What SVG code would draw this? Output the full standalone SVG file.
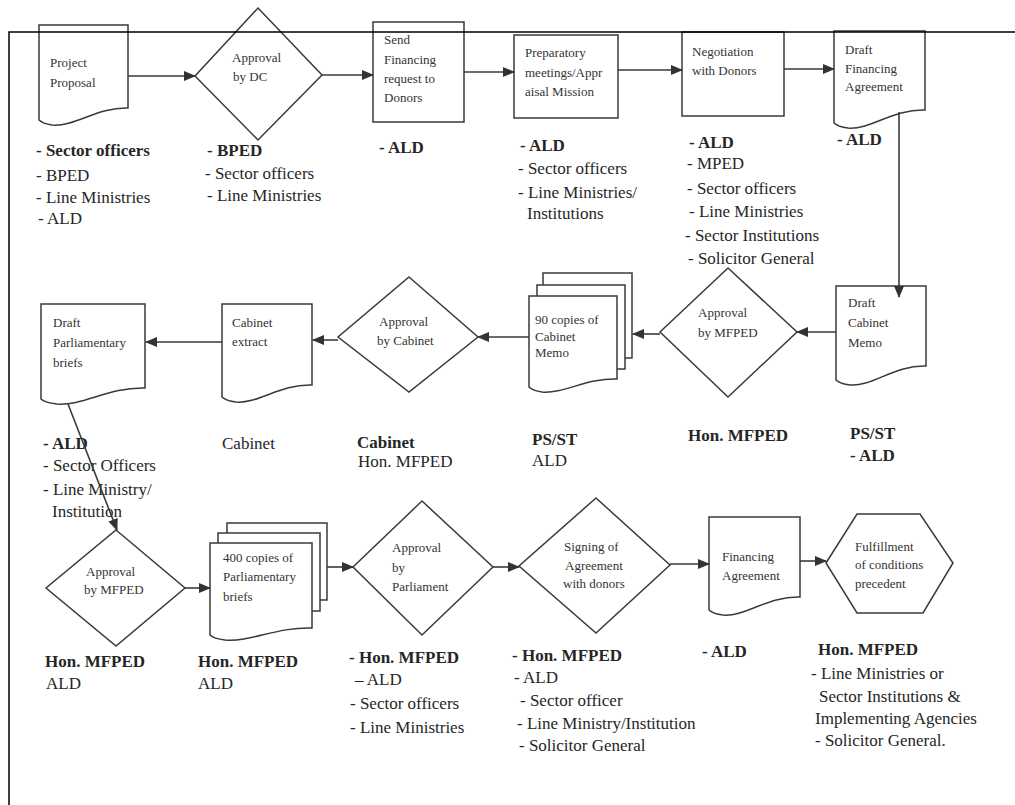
<svg xmlns="http://www.w3.org/2000/svg" width="1015" height="805" viewBox="0 0 1015 805">
<style>
.shape{fill:#fff;stroke:#3a3a3a;stroke-width:1.5}
.conn{fill:none;stroke:#3a3a3a;stroke-width:1.6}
.nt{font-family:"Liberation Serif","Times New Roman",serif;font-size:13px;fill:#333}
.lb{font-family:"Liberation Serif","Times New Roman",serif;font-size:17px;fill:#262626}
.b{font-weight:bold}
.frame{fill:none;stroke:#000;stroke-width:1.5}
</style>
<defs>
<marker id="ah" markerWidth="12" markerHeight="10" refX="11" refY="5" orient="auto" markerUnits="userSpaceOnUse"><path d="M0,0 L12,5 L0,10 Z" fill="#333"/></marker>
</defs>
<rect width="1015" height="805" fill="#fff"/>

<g id="project-proposal">
<path class="shape" d="M39,25 H128 V108 C97,107 75,127 52,125 C45,124 41,122 39,120 Z"/>
<text class="nt" x="50" y="67">Project</text>
<text class="nt" x="50" y="87">Proposal</text>
<text class="lb b" x="36" y="156">- Sector officers</text>
<text class="lb" x="36" y="181">- BPED</text>
<text class="lb" x="36" y="203">- Line Ministries</text>
<text class="lb" x="38" y="224">- ALD</text>
</g>

<g id="approval-dc">
<polygon class="shape" points="258,8 322,75 258,140 195,76"/>
<text class="nt" x="232" y="62">Approval</text>
<text class="nt" x="233" y="81">by DC</text>
<text class="lb b" x="207" y="156">- BPED</text>
<text class="lb" x="205" y="179">- Sector officers</text>
<text class="lb" x="207" y="201">- Line Ministries</text>
</g>

<g id="send-financing">
<rect class="shape" x="373" y="22" width="91" height="100"/>
<text class="nt" x="384" y="44">Send</text>
<text class="nt" x="384" y="64">Financing</text>
<text class="nt" x="384" y="83">request to</text>
<text class="nt" x="384" y="102">Donors</text>
<text class="lb b" x="379" y="153">- ALD</text>
</g>

<g id="preparatory">
<rect class="shape" x="514" y="35" width="104" height="83"/>
<text class="nt" x="525" y="57">Preparatory</text>
<text class="nt" x="525" y="77">meetings/Appr</text>
<text class="nt" x="525" y="96">aisal Mission</text>
<text class="lb b" x="520" y="151">- ALD</text>
<text class="lb" x="518" y="174">- Sector officers</text>
<text class="lb" x="518" y="198">- Line Ministries/</text>
<text class="lb" x="527" y="219">Institutions</text>
</g>

<g id="negotiation">
<rect class="shape" x="682" y="32" width="102" height="84"/>
<text class="nt" x="692" y="56">Negotiation</text>
<text class="nt" x="692" y="75">with Donors</text>
<text class="lb b" x="689" y="148">- ALD</text>
<text class="lb" x="687" y="169">- MPED</text>
<text class="lb" x="687" y="194">- Sector officers</text>
<text class="lb" x="689" y="217">- Line Ministries</text>
<text class="lb" x="685" y="241">- Sector Institutions</text>
<text class="lb" x="688" y="264">- Solicitor General</text>
</g>

<g id="draft-financing-agreement">
<path class="shape" d="M834,31 H925 V110 C893,109 870,130 848,128 C840,127 836,125 834,123 Z"/>
<text class="nt" x="845" y="54">Draft</text>
<text class="nt" x="845" y="73">Financing</text>
<text class="nt" x="845" y="91">Agreement</text>
<text class="lb b" x="837" y="145">-  ALD</text>
</g>

<g id="draft-cabinet-memo">
<path class="shape" d="M836,286 H926 V366 C894,365 872,387 850,385 C842,384 838,382 836,380 Z"/>
<text class="nt" x="848" y="307">Draft</text>
<text class="nt" x="848" y="327">Cabinet</text>
<text class="nt" x="848" y="347">Memo</text>
<text class="lb b" x="850" y="439">PS/ST</text>
<text class="lb b" x="850" y="461">-  ALD</text>
</g>

<g id="approval-mfped-1">
<polygon class="shape" points="728,268 797,332 728,397 660,332"/>
<text class="nt" x="698" y="317">Approval</text>
<text class="nt" x="698" y="337">by MFPED</text>
<text class="lb b" x="688" y="441">Hon. MFPED</text>
</g>

<g id="cabinet-memo-copies">
<rect class="shape" x="543" y="273" width="89" height="85"/>
<rect class="shape" x="537" y="285" width="88" height="84"/>
<path class="shape" d="M529,296 H617 V379 C586,378 564,394 542,392 C535,391 531,389 529,387 Z"/>
<text class="nt" x="535" y="324">90 copies of</text>
<text class="nt" x="535" y="341">Cabinet</text>
<text class="nt" x="535" y="357">Memo</text>
<text class="lb b" x="532" y="445">PS/ST</text>
<text class="lb" x="532" y="466">ALD</text>
</g>

<g id="approval-cabinet">
<polygon class="shape" points="409,277 478,337 409,392 338,337"/>
<text class="nt" x="379" y="326">Approval</text>
<text class="nt" x="377" y="345">by Cabinet</text>
<text class="lb b" x="357" y="448">Cabinet</text>
<text class="lb" x="358" y="467">Hon. MFPED</text>
</g>

<g id="cabinet-extract">
<path class="shape" d="M222,304 H312 V385 C280,384 258,404 236,402 C228,401 224,399 222,397 Z"/>
<text class="nt" x="232" y="327">Cabinet</text>
<text class="nt" x="232" y="346">extract</text>
<text class="lb" x="222" y="449">Cabinet</text>
</g>

<g id="draft-parliamentary-briefs">
<path class="shape" d="M41,304 H145 V388 C109,387 83,406 57,404 C48,403 43,401 41,399 Z"/>
<text class="nt" x="53" y="327">Draft</text>
<text class="nt" x="53" y="347">Parliamentary</text>
<text class="nt" x="53" y="367">briefs</text>
<text class="lb b" x="43" y="449">- ALD</text>
<text class="lb" x="43" y="471">- Sector Officers</text>
<text class="lb" x="43" y="495">- Line Ministry/</text>
<text class="lb" x="52" y="517">Institution</text>
</g>

<g id="approval-mfped-2">
<polygon class="shape" points="116,530 185,588 116,646 46,588"/>
<text class="nt" x="86" y="576">Approval</text>
<text class="nt" x="84" y="594">by MFPED</text>
<text class="lb b" x="45" y="667">Hon. MFPED</text>
<text class="lb" x="46" y="689">ALD</text>
</g>

<g id="parliamentary-briefs-copies">
<rect class="shape" x="227" y="523" width="100" height="77"/>
<rect class="shape" x="218" y="533" width="102" height="78"/>
<path class="shape" d="M210,543 H312 V628 C276,627 251,642 225,640 C217,639 212,637 210,635 Z"/>
<text class="nt" x="223" y="562">400 copies of</text>
<text class="nt" x="223" y="581">Parliamentary</text>
<text class="nt" x="223" y="601">briefs</text>
<text class="lb b" x="198" y="667">Hon. MFPED</text>
<text class="lb" x="198" y="689">ALD</text>
</g>

<g id="approval-parliament">
<polygon class="shape" points="422,501 493,567 422,635 353,567"/>
<text class="nt" x="392" y="552">Approval</text>
<text class="nt" x="392" y="572">by</text>
<text class="nt" x="392" y="591">Parliament</text>
<text class="lb b" x="349" y="663">- Hon. MFPED</text>
<text class="lb" x="355" y="685">– ALD</text>
<text class="lb" x="350" y="709">- Sector officers</text>
<text class="lb" x="350" y="733">- Line Ministries</text>
</g>

<g id="signing-agreement">
<polygon class="shape" points="596,498 670,565 596,633 519,566"/>
<text class="nt" x="564" y="551">Signing of</text>
<text class="nt" x="565" y="570">Agreement</text>
<text class="nt" x="563" y="588">with donors</text>
<text class="lb b" x="512" y="661">- Hon. MFPED</text>
<text class="lb" x="514" y="683">- ALD</text>
<text class="lb" x="520" y="706">- Sector officer</text>
<text class="lb" x="517" y="729">- Line Ministry/Institution</text>
<text class="lb" x="519" y="751">- Solicitor General</text>
</g>

<g id="financing-agreement">
<path class="shape" d="M709,517 H800 V597 C768,596 745,617 723,615 C715,614 711,612 709,610 Z"/>
<text class="nt" x="722" y="561">Financing</text>
<text class="nt" x="722" y="580">Agreement</text>
<text class="lb b" x="702" y="657">- ALD</text>
</g>

<g id="fulfillment">
<polygon class="shape" points="826,563 857,514 920,514 953,563 923,613 857,613"/>
<text class="nt" x="855" y="551">Fulfillment</text>
<text class="nt" x="855" y="569">of conditions</text>
<text class="nt" x="855" y="588">precedent</text>
<text class="lb b" x="818" y="655">Hon. MFPED</text>
<text class="lb" x="811" y="679">- Line Ministries or</text>
<text class="lb" x="819" y="702">Sector Institutions &amp;</text>
<text class="lb" x="815" y="724">Implementing Agencies</text>
<text class="lb" x="815" y="746">- Solicitor General.</text>
</g>

<g id="connectors">
<line class="conn" x1="128" y1="76" x2="195" y2="76" marker-end="url(#ah)"/>
<line class="conn" x1="322" y1="75" x2="373" y2="75" marker-end="url(#ah)"/>
<line class="conn" x1="464" y1="72" x2="514" y2="72" marker-end="url(#ah)"/>
<line class="conn" x1="618" y1="70" x2="682" y2="70" marker-end="url(#ah)"/>
<line class="conn" x1="784" y1="69" x2="834" y2="69" marker-end="url(#ah)"/>
<line class="conn" x1="899" y1="112" x2="899" y2="297" marker-end="url(#ah)"/>
<line class="conn" x1="836" y1="332" x2="797" y2="332" marker-end="url(#ah)"/>
<line class="conn" x1="660" y1="334" x2="633" y2="334" marker-end="url(#ah)"/>
<line class="conn" x1="529" y1="337" x2="478" y2="337" marker-end="url(#ah)"/>
<line class="conn" x1="338" y1="340" x2="313" y2="340" marker-end="url(#ah)"/>
<line class="conn" x1="222" y1="342" x2="146" y2="342" marker-end="url(#ah)"/>
<line class="conn" x1="68" y1="404" x2="117" y2="530" marker-end="url(#ah)"/>
<line class="conn" x1="185" y1="588" x2="210" y2="588" marker-end="url(#ah)"/>
<line class="conn" x1="327" y1="567" x2="353" y2="567" marker-end="url(#ah)"/>
<line class="conn" x1="493" y1="567" x2="519" y2="567" marker-end="url(#ah)"/>
<line class="conn" x1="670" y1="564" x2="709" y2="564" marker-end="url(#ah)"/>
<line class="conn" x1="800" y1="561" x2="826" y2="561" marker-end="url(#ah)"/>
</g>

<path class="frame" d="M9,805 V32 H1015"/>
</svg>
